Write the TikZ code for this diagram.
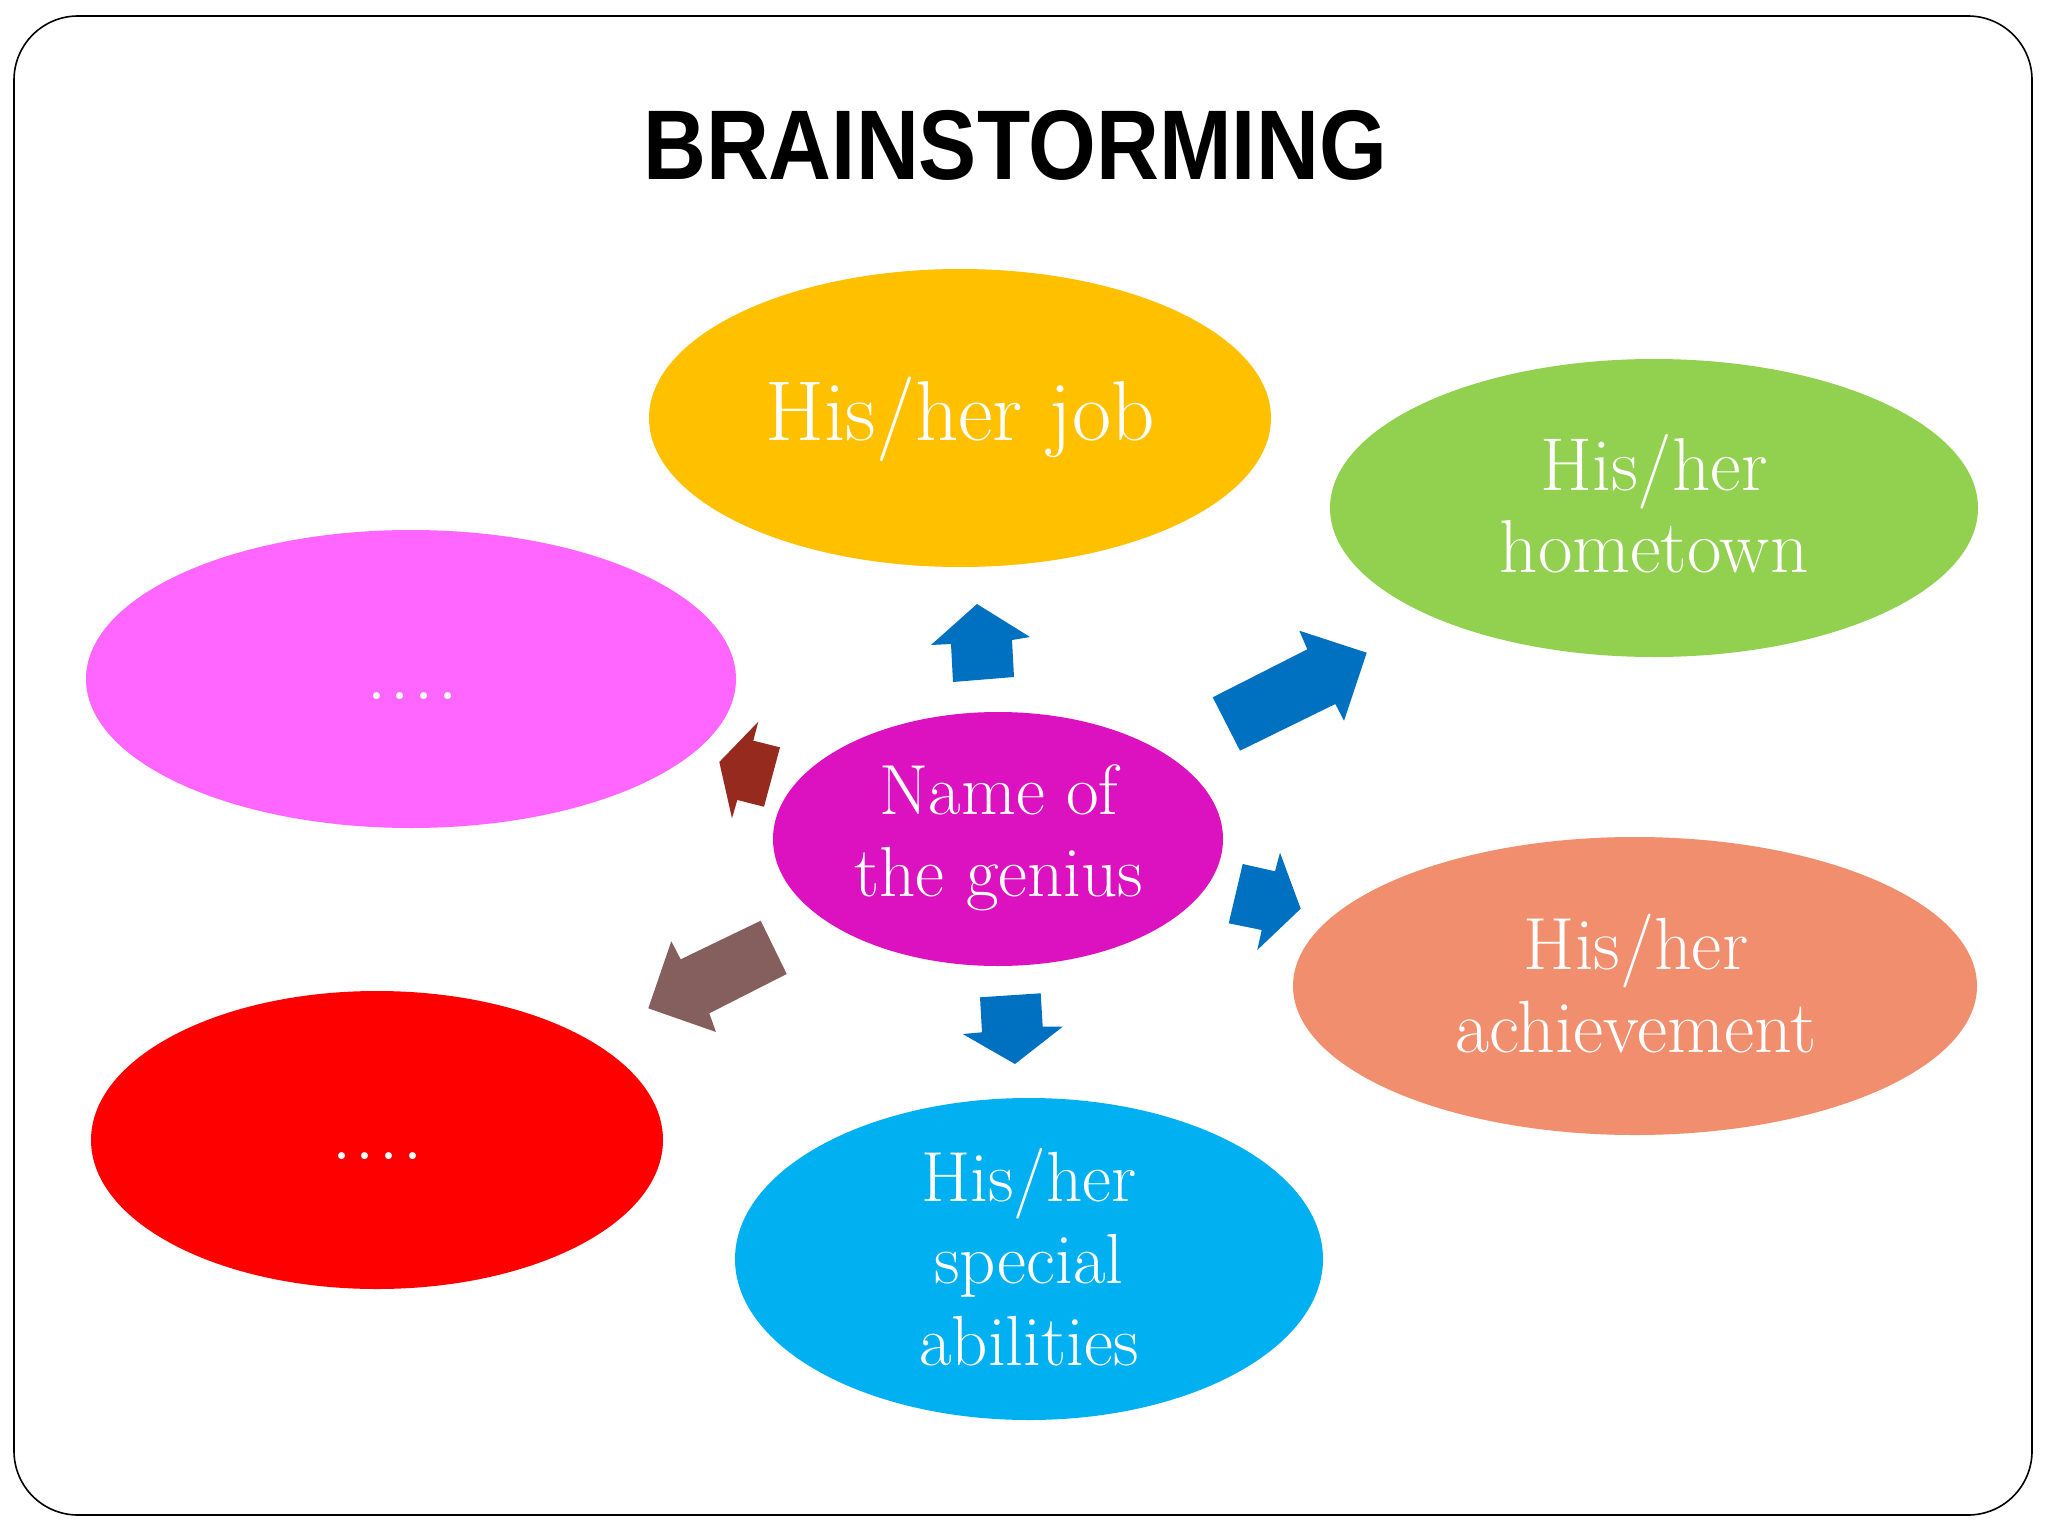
\documentclass[tikz,border=0pt]{standalone}
\usepackage{fontspec}
\setmainfont{Latin Modern Roman}
\newfontfamily\titlefont{Liberation Sans}
\usetikzlibrary{shapes.geometric}
\definecolor{cjob}{HTML}{FFC000}
\definecolor{chome}{HTML}{92D050}
\definecolor{cpink}{HTML}{FF66FF}
\definecolor{ccenter}{HTML}{DC11BF}
\definecolor{cach}{HTML}{F08E6D}
\definecolor{cred}{HTML}{FF0000}
\definecolor{cblue}{HTML}{00B0F0}
\definecolor{arrblue}{HTML}{0070C0}
\definecolor{arrbrown}{HTML}{855E5E}
\definecolor{arrdark}{HTML}{962A1F}
\begin{document}
\begin{tikzpicture}[x=1pt,y=-1pt,
  blob/.style={ellipse, inner sep=0pt, draw=none},
  lbl/.style={text=white, align=center, inner sep=0pt}]
\useasboundingbox (0,0) rectangle (2048,1536);
\fill[white] (0,0) rectangle (2048,1536);
\draw[line width=1.6pt, rounded corners=64pt] (14,16) rectangle (2032,1515);

\node[anchor=base, inner sep=0pt] (title) at (1015,179)
  {\scalebox{0.88}[1]{\titlefont\bfseries\fontsize{99}{110}\selectfont BRAINSTORMING}};

% ellipses
\node[blob, fill=cjob, minimum width=622pt, minimum height=298pt] (job) at (960,418) {};
\node[blob, fill=chome, minimum width=648pt, minimum height=298pt] (home) at (1654,508) {};
\node[blob, fill=cpink, minimum width=650pt, minimum height=298pt] (pink) at (411,679) {};
\node[blob, fill=ccenter, minimum width=450pt, minimum height=254pt] (center) at (998,839) {};
\node[blob, fill=cach, minimum width=684pt, minimum height=298pt] (ach) at (1635,986) {};
\node[blob, fill=cred, minimum width=572pt, minimum height=298pt] (red) at (377,1140) {};
\node[blob, fill=cblue, minimum width=588pt, minimum height=322pt] (blue) at (1029,1259) {};

% labels
\node[lbl, anchor=base, font=\fontsize{85}{96}\selectfont] (jobt) at (960,440) {His/her job};
\node[lbl, font=\fontsize{75}{82}\selectfont] (homet) at (1654,504) {His/her\\hometown};
\node[lbl, font=\fontsize{71}{82}\selectfont] (centert) at (999,838) {Name of\\the genius};
\node[lbl, font=\fontsize{74}{83}\selectfont] (acht) at (1636,984) {His/her\\achievement};
\node[lbl, font=\fontsize{71}{82}\selectfont] (bluet) at (1029,1257) {His/her\\special\\abilities};
\node[lbl, anchor=base, font=\fontsize{84}{90}\selectfont] (pinkt) at (412.5,699) {.\kern3pt.\kern3pt.\kern3pt.};
\node[lbl, anchor=base, font=\fontsize{84}{90}\selectfont] (redt) at (377.5,1159) {.\kern3pt.\kern3pt.\kern3pt.};

% block arrows
\fill[arrblue] (977,604) -- (1030,637) -- (1012,640) -- (1014,677) -- (953,682) -- (951,644) -- (931,645) -- cycle;
\fill[arrblue] (1212.7,697.3) -- (1307.3,649.3) -- (1299.3,630.7) -- (1366.7,652.7) -- (1344,720.7) -- (1335.3,704) -- (1240,750.7) -- cycle;
\fill[arrblue] (1242.7,864) -- (1275,871.3) -- (1280,852.7) -- (1300.7,908.7) -- (1257.3,950) -- (1261.7,930) -- (1228.7,923.3) -- cycle;
\fill[arrblue] (980,997.3) -- (1040.7,993.3) -- (1042.7,1026.7) -- (1062.7,1026.7) -- (1015,1064) -- (962.7,1034) -- (982,1032.3) -- cycle;
\fill[arrbrown] (760.7,920.7) -- (786.7,974) -- (709.3,1013.3) -- (716,1032) -- (648.3,1008.3) -- (671.3,941.3) -- (680.7,959.3) -- cycle;
\fill[arrdark] (758.3,721.7) -- (753.3,740.7) -- (780,747.3) -- (764,806.7) -- (737.3,800) -- (732,818.3) -- (719.3,762) -- cycle;
\end{tikzpicture}
\end{document}
